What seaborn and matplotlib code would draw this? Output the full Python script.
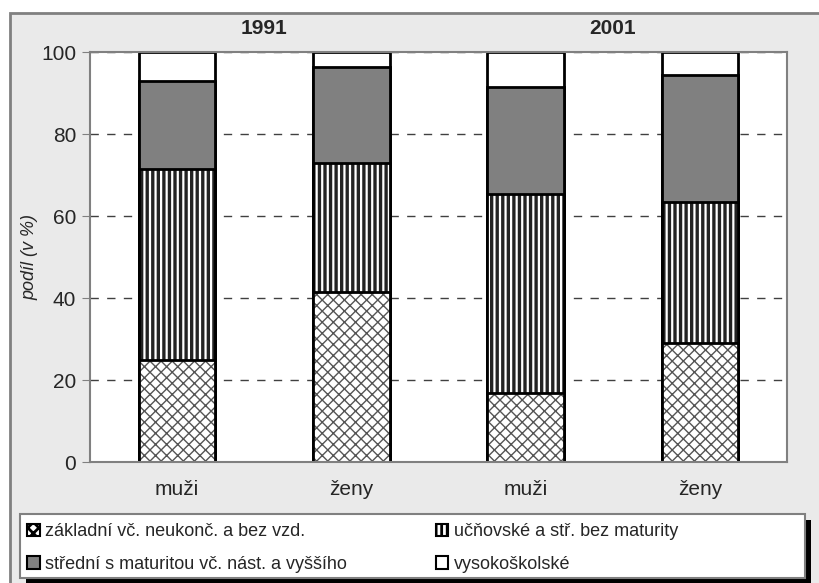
import numpy as np
import pandas as pd
import matplotlib
matplotlib.use("Agg")
import matplotlib.pyplot as plt
from matplotlib.patches import Patch, Rectangle
import matplotlib.transforms as mtransforms
import seaborn as sns

# Data
skupiny = ["1991 muži", "1991 ženy", "2001 muži", "2001 ženy"]
popisky = ["muži", "ženy", "muži", "ženy"]
roky = ["1991", "2001"]
zakladni = [25.0, 41.5, 16.8, 29.0]
ucnovske = [46.5, 31.5, 48.6, 34.4]
stredni = [21.5, 23.3, 26.1, 31.0]
vysokoskolske = [7.0, 3.7, 8.5, 5.6]
kategorie = ["základní vč. neukonč. a bez vzd.",
             "učňovské a stř. bez maturity",
             "střední s maturitou vč. nást. a vyššího",
             "vysokoškolské"]

df = pd.DataFrame({"skupina": skupiny, "zakl": zakladni, "ucn": ucnovske,
                   "str": stredni, "vs": vysokoskolske})
df["c1"] = df["zakl"]
df["c2"] = df["c1"] + df["ucn"]
df["c3"] = df["c2"] + df["str"]
df["c4"] = df["c3"] + df["vs"]

sns.set_style("white")
plt.rcParams["font.family"] = ["Liberation Sans", "DejaVu Sans"]
plt.rcParams["hatch.linewidth"] = 2.0

W, H = 819, 583
fig = plt.figure(figsize=(W / 100, H / 100), dpi=100)
fig.patch.set_facecolor("white")

# sedy ramecek kolem grafu
fig.patches.append(Rectangle((10 / W, -0.1), 1.2, 1 - 13 / H + 0.1, transform=fig.transFigure,
                             facecolor="#eaeaea", edgecolor="#808080", linewidth=2, zorder=-10))

ax = fig.add_axes([90 / W, 1 - 462 / H, (787 - 90) / W, (462 - 52) / H])
ax.set_facecolor("white")
ax.set_axisbelow(True)

bw = 0.44
kw = dict(data=df, x="skupina", order=skupiny, width=bw, saturation=1, ax=ax)

# vrstvy odshora dolu (prekryvaji se)
sns.barplot(y="c4", color="white", edgecolor="black", linewidth=2, **kw)
sns.barplot(y="c3", color="#808080", edgecolor="black", linewidth=2, **kw)
n0 = len(ax.patches)
sns.barplot(y="c2", color="white", edgecolor="#222222", linewidth=0, hatch="|||", **kw)
for p in ax.patches[n0:]:
    if hasattr(p, "set_hatch_linewidth"):
        p.set_hatch_linewidth(2.4)
sns.barplot(y="c2", color="black", fill=False, linewidth=2, **kw)
n1 = len(ax.patches)
sns.barplot(y="c1", color="white", edgecolor="#555555", linewidth=0, hatch="xxx", **kw)
for p in ax.patches[n1:]:
    if hasattr(p, "set_hatch_linewidth"):
        p.set_hatch_linewidth(1.0)
sns.barplot(y="c1", color="black", fill=False, linewidth=2, **kw)

ax.set_xlim(-0.5, 3.5)
ax.set_ylim(0, 100)
ax.set_yticks([0, 20, 40, 60, 80, 100])
ax.yaxis.grid(True, color="#404040", linestyle=(0, (6, 6)), linewidth=1)
ax.xaxis.grid(False)
ax.set_xticks(range(4))
ax.set_xticklabels(popisky, fontsize=15)
ax.set_xticks([-0.5, 0.5, 1.5, 2.5, 3.5], minor=True)
ax.tick_params(axis="x", which="major", length=0, pad=13)
ax.tick_params(axis="x", which="minor", length=6, color="#808080", direction="out")
ax.tick_params(axis="y", labelsize=15, length=6, color="#808080", direction="out", left=True, pad=4)
ax.set_xlabel("")
ax.set_ylabel("podíl (v %)", fontsize=13, style="italic", labelpad=2)
for s in ax.spines.values():
    s.set_color("#808080")
    s.set_linewidth(1.5)

tr = mtransforms.blended_transform_factory(ax.transData, fig.transFigure)
for i, r in enumerate(roky):
    ax.text(0.5 + 2 * i, 1 - 28 / H, r, transform=tr, fontsize=15,
            fontweight="bold", ha="center", va="center")

handles = [
    Patch(facecolor="white", edgecolor="black", hatch="xxx", linewidth=1.5),
    Patch(facecolor="white", edgecolor="black", hatch="|||", linewidth=1.5),
    Patch(facecolor="#808080", edgecolor="black", linewidth=1.5),
    Patch(facecolor="white", edgecolor="black", linewidth=1.5),
]
poradi = [0, 2, 1, 3]  # legenda se plni po sloupcich

lx0, lx1, ly0, ly1 = 20, 805, 514, 578
fig.patches.append(Rectangle(((lx0 + 6) / W, 1 - (ly1 + 6) / H), (lx1 - lx0) / W, (ly1 - ly0) / H,
                             transform=fig.transFigure, facecolor="black", edgecolor="none", zorder=1))
fig.patches.append(Rectangle((lx0 / W, 1 - ly1 / H), (lx1 - lx0) / W, (ly1 - ly0) / H,
                             transform=fig.transFigure, facecolor="white", edgecolor="#808080",
                             linewidth=1.5, zorder=1.5))
leg = fig.legend([handles[i] for i in poradi], [kategorie[i] for i in poradi],
                 loc="upper left", bbox_to_anchor=(22 / W, 1 - 518 / H),
                 ncol=2, fontsize=13, frameon=False,
                 handlelength=0.7, handleheight=0.7,
                 handletextpad=0.3, borderaxespad=0, borderpad=0.3, labelspacing=0.85,
                 columnspacing=4.9)
leg.set_zorder(2)

fig.savefig("out.png", dpi=100)
